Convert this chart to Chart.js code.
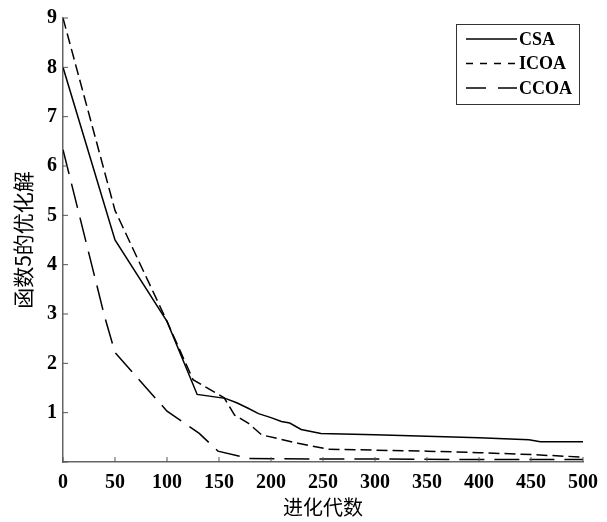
<!DOCTYPE html>
<html>
<head>
<meta charset="utf-8">
<script src="https://cdn.jsdelivr.net/npm/chart.js@4.4.0/dist/chart.umd.min.js"></script>
<style>
  html, body { margin: 0; padding: 0; background: #fff; }
  #wrap { width: 607px; height: 522px; }
</style>
</head>
<body>
<div id="wrap"><canvas id="curve"></canvas></div>
<script>
// data
const seriesNames = ['CSA', 'ICOA', 'CCOA'];

const csaGen = [0, 50, 100, 129, 156, 167, 178, 188, 200, 210, 218, 229, 248, 300, 350, 400, 448, 459, 500];
const csaVal = [8.0, 4.5, 2.85, 1.37, 1.29, 1.2, 1.09, 0.98, 0.9, 0.82, 0.79, 0.66, 0.58, 0.55, 0.52, 0.49, 0.45, 0.41, 0.41];

const icoaGen = [0, 50, 100, 125, 155, 165, 178, 191, 226, 255, 300, 350, 400, 450, 500];
const icoaVal = [9.0, 5.1, 2.85, 1.67, 1.3, 0.95, 0.79, 0.55, 0.38, 0.26, 0.24, 0.22, 0.19, 0.15, 0.1];

const ccoaGen = [0, 40, 50, 100, 131, 149, 179, 250, 300, 400, 500];
const ccoaVal = [6.33, 2.95, 2.22, 1.03, 0.58, 0.22, 0.07, 0.06, 0.06, 0.05, 0.05];

const xTicks = [0, 50, 100, 150, 200, 250, 300, 350, 400, 450, 500];
const yTicks = [0, 1, 2, 3, 4, 5, 6, 7, 8, 9];

const toPoints = (gen, val) => gen.map((g, i) => ({ x: g, y: val[i] }));

const tickFont = { family: '"Liberation Serif", "Times New Roman", serif', size: 20, weight: 'bold' };
const cjkFont = '"Noto Sans CJK SC", sans-serif';

// small ticks drawn inward from the axes
const innerTicks = {
  id: 'innerTicks',
  afterDatasetsDraw(chart) {
    const { ctx, chartArea, scales } = chart;
    ctx.save();
    ctx.strokeStyle = '#555';
    ctx.lineWidth = 1;
    xTicks.forEach(v => {
      const px = scales.x.getPixelForValue(v);
      ctx.beginPath();
      ctx.moveTo(px, chartArea.bottom);
      ctx.lineTo(px, chartArea.bottom - 5);
      ctx.stroke();
    });
    yTicks.forEach(v => {
      const py = scales.y.getPixelForValue(v);
      ctx.beginPath();
      ctx.moveTo(chartArea.left, py);
      ctx.lineTo(chartArea.left + 5, py);
      ctx.stroke();
    });
    ctx.restore();
  }
};

// boxed legend in the upper right corner
const boxLegend = {
  id: 'boxLegend',
  afterDraw(chart) {
    const { ctx } = chart;
    const x0 = 456, y0 = 24, w = 123, h = 80;
    ctx.save();
    ctx.fillStyle = '#fff';
    ctx.fillRect(x0, y0, w, h);
    ctx.strokeStyle = '#333';
    ctx.lineWidth = 1;
    ctx.strokeRect(x0 + 0.5, y0 + 0.5, w, h);
    ctx.font = 'bold 18px "Liberation Serif", "Times New Roman", serif';
    ctx.textBaseline = 'middle';
    ctx.fillStyle = '#000';
    chart.data.datasets.forEach((ds, i) => {
      const ly = 39 + i * 24.5;
      ctx.beginPath();
      ctx.setLineDash(ds.legendDash || []);
      ctx.lineWidth = 1.5;
      ctx.strokeStyle = '#000';
      ctx.moveTo(466, ly);
      ctx.lineTo(517, ly);
      ctx.stroke();
      ctx.setLineDash([]);
      ctx.fillText(ds.label, 519, ly + 1);
    });
    ctx.restore();
  }
};

const ctx = document.getElementById('curve').getContext('2d');
new Chart(ctx, {
  type: 'line',
  data: {
    datasets: [
      {
        label: seriesNames[0],
        data: toPoints(csaGen, csaVal),
        borderColor: '#000',
        borderWidth: 1.5,
        legendDash: [],
      },
      {
        label: seriesNames[1],
        data: toPoints(icoaGen, icoaVal),
        borderColor: '#000',
        borderWidth: 1.5,
        borderDash: [11, 5],
        legendDash: [7, 7],
      },
      {
        label: seriesNames[2],
        data: toPoints(ccoaGen, ccoaVal),
        borderColor: '#000',
        borderWidth: 1.5,
        borderDash: [25, 10],
        legendDash: [20, 12],
      },
    ],
  },
  options: {
    responsive: true,
    maintainAspectRatio: false,
    animation: false,
    elements: { point: { radius: 0 }, line: { tension: 0 } },
    layout: { padding: { top: 16, right: 19, left: 0, bottom: 0 } },
    plugins: {
      legend: { display: false },
      tooltip: { enabled: false },
    },
    scales: {
      x: {
        type: 'linear',
        min: 0,
        max: 500,
        afterBuildTicks: (scale) => { scale.ticks = xTicks.map(v => ({ value: v })); },
        afterFit: (scale) => { scale.height = 60; },
        grid: { display: false, drawTicks: false },
        border: { display: true, color: '#666', width: 1.5 },
        ticks: { color: '#000', font: tickFont, padding: 9, maxRotation: 0 },
        title: {
          display: true,
          text: '进化代数',
          color: '#000',
          font: { family: cjkFont, size: 20 },
          padding: { top: 0, bottom: 3 },
        },
      },
      y: {
        min: 0,
        max: 9,
        afterBuildTicks: (scale) => { scale.ticks = yTicks.map(v => ({ value: v })); },
        afterFit: (scale) => { scale.width = 63; },
        grid: { display: false, drawTicks: false },
        border: { display: true, color: '#666', width: 1.5 },
        ticks: {
          color: '#000',
          font: tickFont,
          padding: 6,
          callback: (v) => (v === 0 ? '' : v),
        },
        title: {
          display: true,
          text: '函数5的优化解',
          color: '#000',
          font: { family: cjkFont, size: 21 },
          padding: { top: 10, bottom: 0 },
        },
      },
    },
  },
  plugins: [innerTicks, boxLegend],
});
</script>
</body>
</html>
